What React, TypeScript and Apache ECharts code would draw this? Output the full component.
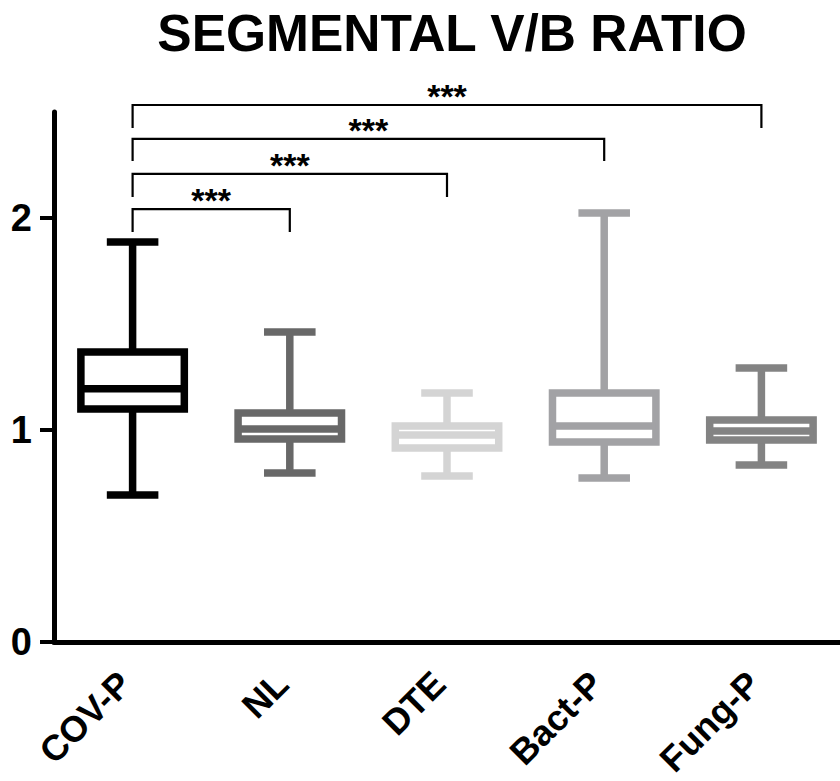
import React, { useEffect, useRef } from "react";
import * as echarts from "echarts";

// ---- data ----
const categories = ["COV-P", "NL", "DTE", "Bact-P", "Fung-P"];
const whiskerMin = [0.693, 0.797, 0.783, 0.774, 0.835];
const q1Values = [1.099, 0.958, 0.915, 0.943, 0.953];
const medianValues = [1.195, 1.005, 0.976, 1.019, 0.995];
const q3Values = [1.368, 1.08, 1.019, 1.175, 1.047];
const whiskerMax = [1.887, 1.462, 1.175, 2.024, 1.292];
const boxColors = ["#000000", "#686868", "#d4d4d4", "#a2a2a5", "#838383"];
const yTickValues = [0, 1, 2];

const bracketFrom = [0, 0, 0, 0];
const bracketTo = [1, 2, 3, 4];
const bracketLevel = [2.042, 2.208, 2.373, 2.533];
const bracketDrop = [1.934, 2.099, 2.269, 2.425];
const bracketLabels = ["***", "***", "***", "***"];

const titleText = "SEGMENTAL V/B RATIO";
const FONT = "'Liberation Sans', Arial, Helvetica, sans-serif";

export default function App() {
  const ref = useRef<HTMLDivElement>(null);

  useEffect(() => {
    document.body.style.margin = "0";
    if (!ref.current) return;
    const chart = echarts.init(ref.current, undefined, { renderer: "svg" });

    const boxData = categories.map((_, i) => [
      i,
      whiskerMin[i],
      q1Values[i],
      medianValues[i],
      q3Values[i],
      whiskerMax[i],
    ]);
    const bracketData = bracketFrom.map((f, i) => [
      f,
      bracketTo[i],
      bracketLevel[i],
      bracketDrop[i],
    ]);

    const option: any = {
      animation: false,
      backgroundColor: "#ffffff",
      graphic: [
        {
          type: "text",
          x: 452,
          y: 33,
          style: {
            text: titleText,
            fontSize: 51.5,
            fontWeight: "bold",
            fontFamily: FONT,
            fill: "#000",
            textAlign: "center",
            textVerticalAlign: "middle",
          },
        },
      ],
      grid: { left: 54, top: 112, width: 796, height: 530 },
      xAxis: {
        type: "category",
        data: categories,
        boundaryGap: true,
        axisLine: { lineStyle: { color: "#000", width: 5 } },
        axisTick: {
          alignWithLabel: true,
          length: 15,
          lineStyle: { color: "#000", width: 4 },
        },
        axisLabel: {
          rotate: 45,
          margin: 28,
          padding: [0, 11, 0, 0],
          color: "#000",
          fontSize: 36,
          fontWeight: "bold",
          fontFamily: FONT,
          interval: 0,
        },
        splitLine: { show: false },
      },
      yAxis: {
        type: "value",
        min: 0,
        max: 2.5,
        interval: 1,
        axisLine: { show: true, lineStyle: { color: "#000", width: 5 } },
        axisTick: {
          show: true,
          length: 14,
          customValues: yTickValues,
          lineStyle: { color: "#000", width: 4 },
        },
        axisLabel: {
          customValues: yTickValues,
          margin: 22,
          color: "#000",
          fontSize: 38,
          fontWeight: "bold",
          fontFamily: FONT,
        },
        splitLine: { show: false },
      },
      series: [
        {
          type: "custom",
          name: "boxes",
          data: boxData,
          encode: { x: 0, y: [1, 2, 3, 4, 5] },
          renderItem: (params: any, api: any) => {
            const idx = api.value(0);
            const x = api.coord([idx, 0])[0];
            const band = api.size([1, 0])[0];
            const half = band * 0.329;
            const capHalf = band * 0.164;
            const yMin = api.coord([idx, api.value(1)])[1];
            const yQ1 = api.coord([idx, api.value(2)])[1];
            const yMed = api.coord([idx, api.value(3)])[1];
            const yQ3 = api.coord([idx, api.value(4)])[1];
            const yMax = api.coord([idx, api.value(5)])[1];
            const color = boxColors[params.dataIndex];
            const lw = 7.5;
            const ls = { stroke: color, lineWidth: lw, fill: "none" };
            return {
              type: "group",
              children: [
                { type: "line", shape: { x1: x, y1: yMax, x2: x, y2: yQ3 }, style: ls },
                { type: "line", shape: { x1: x, y1: yQ1, x2: x, y2: yMin }, style: ls },
                { type: "line", shape: { x1: x - capHalf, y1: yMax, x2: x + capHalf, y2: yMax }, style: ls },
                { type: "line", shape: { x1: x - capHalf, y1: yMin, x2: x + capHalf, y2: yMin }, style: ls },
                {
                  type: "rect",
                  shape: { x: x - half, y: yQ3, width: 2 * half, height: yQ1 - yQ3 },
                  style: { stroke: color, lineWidth: lw, fill: "#ffffff" },
                },
                { type: "line", shape: { x1: x - half, y1: yMed, x2: x + half, y2: yMed }, style: ls },
              ],
            };
          },
        },
        {
          type: "custom",
          name: "brackets",
          data: bracketData,
          clip: false,
          encode: { x: [0, 1], y: [2, 3] },
          renderItem: (params: any, api: any) => {
            const f = api.value(0);
            const t = api.value(1);
            const lvl = api.value(2);
            const drop = api.value(3);
            const p1 = api.coord([f, drop]);
            const p2 = api.coord([f, lvl]);
            const p3 = api.coord([t, lvl]);
            const p4 = api.coord([t, drop]);
            return {
              type: "group",
              children: [
                {
                  type: "polyline",
                  shape: { points: [p1, p2, p3, p4] },
                  style: { stroke: "#000", lineWidth: 2.2, fill: "none" },
                },
                {
                  type: "text",
                  x: (p2[0] + p3[0]) / 2,
                  y: p2[1] - 9,
                  style: {
                    text: bracketLabels[params.dataIndex],
                    fontSize: 34,
                    fontWeight: "bold",
                    fontFamily: FONT,
                    fill: "#000",
                    textAlign: "center",
                    textVerticalAlign: "middle",
                  },
                },
              ],
            };
          },
        },
      ],
    };

    chart.setOption(option);
    return () => chart.dispose();
  }, []);

  return <div ref={ref} style={{ width: 840, height: 781 }} />;
}
